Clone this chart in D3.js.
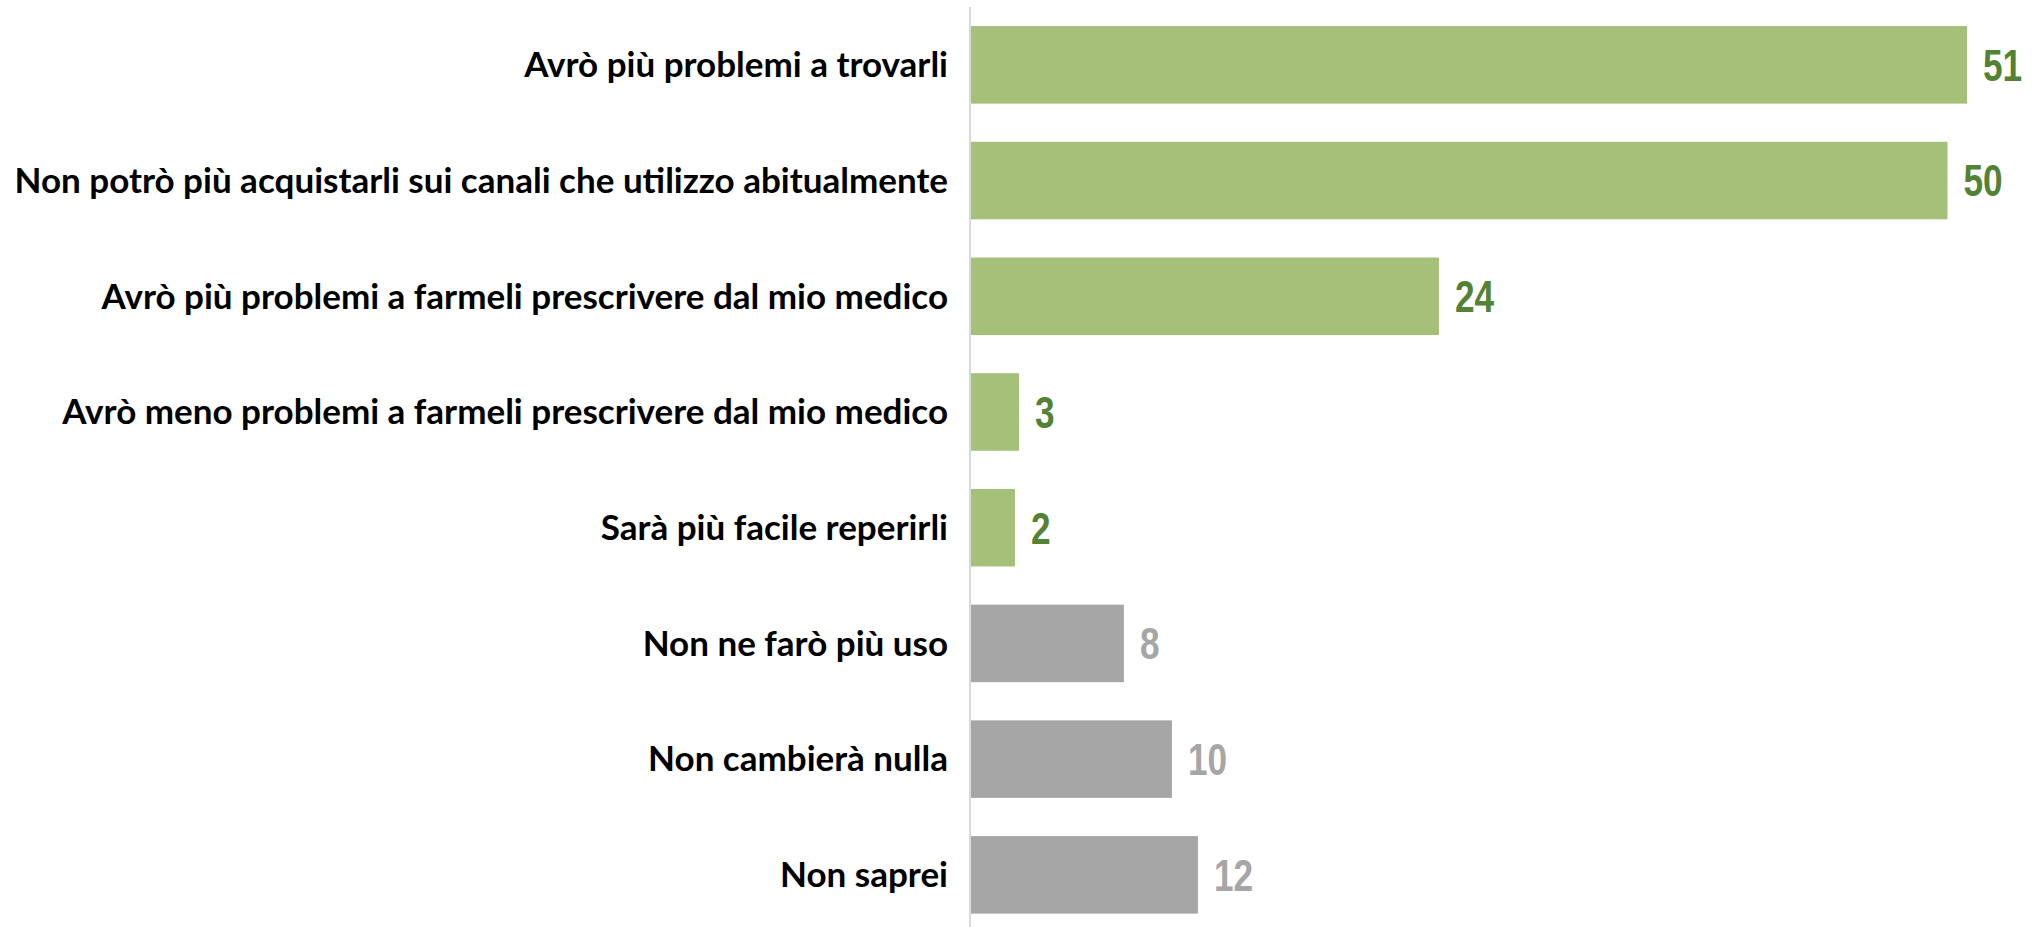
<!DOCTYPE html>
<html><head><meta charset="utf-8">
<script src="https://cdn.jsdelivr.net/npm/d3@7"></script>
<style>html,body{margin:0;padding:0;background:#fff;overflow:hidden}</style>
</head><body>
<svg id="chart" width="2036" height="927"></svg>
<script>
const categories = [
  "Avrò più problemi a trovarli",
  "Non potrò più acquistarli sui canali che utilizzo abitualmente",
  "Avrò più problemi a farmeli prescrivere dal mio medico",
  "Avrò meno problemi a farmeli prescrivere dal mio medico",
  "Sarà più facile reperirli",
  "Non ne farò più uso",
  "Non cambierà nulla",
  "Non saprei"
];
// bar lengths (unrounded)
const values = [51.0, 50.0, 23.96, 2.46, 2.25, 7.83, 10.29, 11.62];
// value labels as printed
const valueLabels = ["51", "50", "24", "3", "2", "8", "10", "12"];
const groups = ["pos","pos","pos","pos","pos","neutral","neutral","neutral"];

const barColor = {pos:"#a5c078", neutral:"#a6a6a6"};
const labelColor = {pos:"#548235", neutral:"#a6a6a6"};

const svg = d3.select("#chart");
const x0 = 971;
const x = d3.scaleLinear().domain([0, 51]).range([x0, 1967]);
const y = d3.scaleBand().domain(categories).range([7, 932.7]).paddingInner(0.33).paddingOuter(0.165);

svg.append("line").attr("x1", 970).attr("x2", 970).attr("y1", 7).attr("y2", 927)
  .attr("stroke", "#d9d9d9").attr("stroke-width", 2);

svg.selectAll("rect.bar").data(categories).join("rect")
  .attr("class", "bar")
  .attr("x", x0).attr("y", d => y(d))
  .attr("width", (d,i) => x(values[i]) - x0)
  .attr("height", y.bandwidth())
  .attr("fill", (d,i) => barColor[groups[i]]);

svg.selectAll("text.val").data(categories).join("text")
  .attr("class", "val")
  .attr("transform", (d,i) => `translate(${x(values[i]) + 16},${y(d) + y.bandwidth()/2}) scale(0.8,1)`)
  .attr("dy", "0.36em")
  .attr("font-family", "'Liberation Sans', Arial, sans-serif")
  .attr("font-weight", "bold")
  .attr("font-size", 44)
  .attr("fill", (d,i) => labelColor[groups[i]])
  .text((d,i) => valueLabels[i]);

svg.selectAll("text.cat").data(categories).join("text")
  .attr("class", "cat")
  .attr("x", 948)
  .attr("y", d => y(d) + y.bandwidth()/2)
  .attr("dy", "0.35em")
  .attr("text-anchor", "end")
  .attr("font-family", "Lato, 'Open Sans', sans-serif")
  .attr("font-weight", "bold")
  .attr("font-size", 35)
  .attr("fill", "#000")
  .text(d => d);
</script>
</body></html>
